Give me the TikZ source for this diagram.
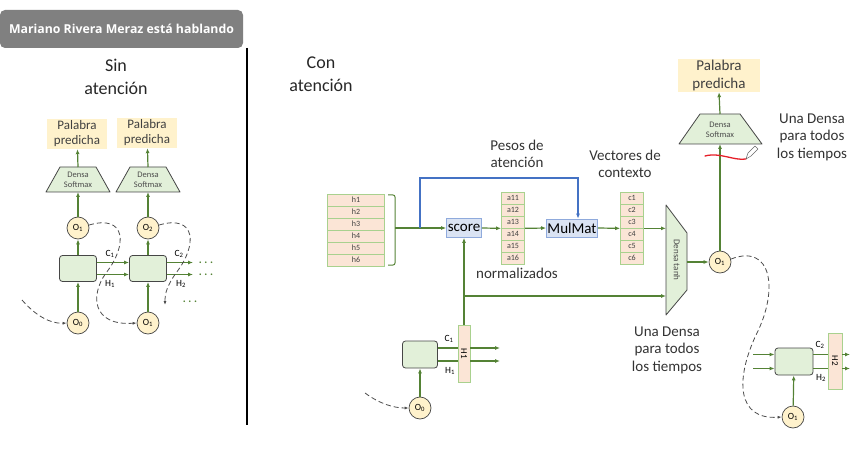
\documentclass[tikz,border=0pt]{standalone}
\usepackage{fontspec}
\setmainfont{Carlito}
\newfontfamily\headfont{Open Sans}
\usepackage{tikz}
\usetikzlibrary{arrows.meta}
\definecolor{headGray}{RGB}{128, 128, 128}
\definecolor{lineGreen}{RGB}{84, 130, 53}
\definecolor{edgeGreen}{RGB}{169, 209, 142}
\definecolor{paleGreen}{RGB}{226, 240, 217}
\definecolor{paleYellow}{RGB}{255, 242, 204}
\definecolor{palePink}{RGB}{251, 229, 214}
\definecolor{paleBlue}{RGB}{218, 227, 243}
\definecolor{edgeBlue}{RGB}{143, 170, 220}
\definecolor{lineBlue}{RGB}{68, 114, 196}
\definecolor{cellGray}{RGB}{70, 70, 70}
\definecolor{penRed}{RGB}{230, 30, 40}

\begin{document}
\begin{tikzpicture}[x=1pt,y=-1pt,
        title/.style={font=\fontsize{18}{23}\selectfont,align=center,text=black!85},
        note/.style={font=\fontsize{15}{17.5}\selectfont,align=center,text=black!80},
        palabra/.style={fill=paleYellow,minimum width=60pt,minimum height=30pt,inner sep=1pt,
                        font=\fontsize{13}{15}\selectfont,align=center,text=black!75},
        densa/.style={draw=cellGray,fill=paleGreen,line width=0.8pt,line join=round},
        densatxt/.style={font=\fontsize{8.5}{10}\selectfont,align=center,text=black!70,inner sep=0pt},
        cell/.style={draw=cellGray,fill=paleGreen,rounded corners=3pt,line width=0.8pt,
                     minimum width=37pt,minimum height=26pt},
        salida/.style={circle,draw=cellGray,fill=paleYellow,line width=0.7pt,minimum size=22pt,
                       inner sep=0pt,font=\fontsize{9.5}{10}\selectfont},
        fila/.style={draw=edgeGreen,fill=palePink,line width=0.7pt,minimum height=12pt,
                     inner sep=0pt,font=\fontsize{8}{8}\selectfont,text=black!75},
        barra/.style={draw=edgeGreen,fill=palePink,line width=0.7pt,inner sep=0pt,
                      font=\fontsize{9}{9}\selectfont},
        opbox/.style={draw=edgeBlue,fill=paleBlue,line width=0.7pt,inner sep=1pt,
                      font=\fontsize{15}{16}\selectfont},
        flecha/.style={draw=lineGreen,line width=1.2pt,-{Latex[length=5pt,width=4pt]}},
        linea/.style={draw=lineGreen,line width=1.2pt},
        bucle/.style={draw=black!70,line width=0.8pt,dash pattern=on 5pt off 3pt,
                      -{Latex[length=4pt,width=3pt]}},
        etiq/.style={font=\fontsize{9.5}{10}\selectfont,inner sep=0pt},
        puntos/.style={text=lineGreen,inner sep=0pt,font=\fontsize{11}{11}\selectfont\boldmath}
    ]
    \useasboundingbox (0,0) rectangle (859,465);

    % cabecera
    \node[fill=headGray,rounded corners=5pt,minimum width=243pt,minimum height=38pt,
          text=white,font=\headfont\bfseries\fontsize{12.3}{14}\selectfont] (cabecera) at (121.5,29) {Mariano Rivera Meraz está hablando};
    \draw[line width=2pt] (247,48) -- (247,425);

    % sin atencion
    \node[title] (sin) at (116,77) {Sin\\atención};
    \node[palabra] (pal1) at (77,134) {Palabra\\predicha};
    \node[palabra] (pal2) at (147,133) {Palabra\\predicha};
    \draw[densa] (46,192) -- (60,167) -- (96,167) -- (110,192) -- cycle;
    \draw[densa] (116,192) -- (130,167) -- (166,167) -- (180,192) -- cycle;
    \node[densatxt] (soft1) at (78,180) {Densa\\Softmax};
    \node[densatxt] (soft2) at (148,180) {Densa\\Softmax};
    \coordinate (soft1b) at (78,192);
    \coordinate (soft1t) at (78,167);
    \coordinate (soft2b) at (148,192);
    \coordinate (soft2t) at (148,167);
    \node[salida] (o1) at (78,228) {O\textsubscript{1}};
    \node[salida] (o2) at (148,228) {O\textsubscript{2}};
    \node[cell] (cell1) at (78,268.5) {};
    \node[cell] (cell2) at (148,268.5) {};
    \node[salida] (o0) at (78,323) {O\textsubscript{0}};
    \node[salida] (o1b) at (148,323) {O\textsubscript{1}};

    \draw[flecha] (soft1t) -- (pal1);
    \draw[flecha] (soft2t) -- (pal2);
    \draw[flecha] (o1) -- (soft1b);
    \draw[flecha] (o2) -- (soft2b);
    \draw[flecha] (cell1) -- (o1);
    \draw[flecha] (cell2) -- (o2);
    \draw[flecha] (o0) -- (cell1);
    \draw[flecha] (o1b) -- (cell2);

    \coordinate (c1in) at (97,262.5);
    \coordinate (h1in) at (97,274.5);
    \coordinate (c2out) at (193,262.5);
    \coordinate (h2out) at (193,274.5);
    \draw[flecha] (c1in) -- (c1in -| cell2.west);
    \draw[flecha] (h1in) -- (h1in -| cell2.west);
    \draw[flecha] (c2out -| cell2.east) -- (c2out);
    \draw[flecha] (h2out -| cell2.east) -- (h2out);
    \node[puntos] (dots1) at (206,262.5) {$\cdots$};
    \node[puntos] (dots2) at (206,274.5) {$\cdots$};
    \node[puntos] (dots3) at (190,302) {$\cdots$};
    \node[etiq] (lc1) at (110,254) {C\textsubscript{1}};
    \node[etiq] (lh1) at (110,284) {H\textsubscript{1}};
    \node[etiq] (lc2) at (179,254) {C\textsubscript{2}};
    \node[etiq] (lh2) at (181,284) {H\textsubscript{2}};

    \draw[bucle] (o1.15) .. controls (126,214) and (128,245) .. (106,273)
                 .. controls (90,295) and (92,326) .. (o1b.west);
    \draw[bucle] (o2.15) .. controls (196,214) and (198,245) .. (176,273)
                 .. controls (167,286) and (165,293) .. (165,305);
    \draw[bucle] (22,300) .. controls (35,315) and (50,324) .. (o0.west);

    % con atencion
    \node[title] (con) at (321,74) {Con\\atención};

    \node[fila,minimum width=57pt] (h1) at (356,200) {h1};
    \node[fila,minimum width=57pt] (h2) at (356,212) {h2};
    \node[fila,minimum width=57pt] (h3) at (356,224) {h3};
    \node[fila,minimum width=57pt] (h4) at (356,236) {h4};
    \node[fila,minimum width=57pt] (h5) at (356,248) {h5};
    \node[fila,minimum width=57pt] (h6) at (356,260) {h6};
    \draw[linea,line width=1pt,rounded corners=2pt] (388,195) -- (395,195) -- (395,265) -- (388,265);
    \coordinate (hjoin) at (395,228);
    \coordinate (bluefork) at (420,228);
    \coordinate (bluecorner) at (578,178);

    \node[opbox,minimum width=35pt,minimum height=19pt] (score) at (464,228) {score};
    \node[fila,minimum width=23pt] (a11) at (513,198) {a11};
    \node[fila,minimum width=23pt] (a12) at (513,210) {a12};
    \node[fila,minimum width=23pt] (a13) at (513,222) {a13};
    \node[fila,minimum width=23pt] (a14) at (513,234) {a14};
    \node[fila,minimum width=23pt] (a15) at (513,246) {a15};
    \node[fila,minimum width=23pt] (a16) at (513,258) {a16};
    \node[opbox,minimum width=50pt,minimum height=18pt] (mulmat) at (572,228) {MulMat};
    \node[fila,minimum width=23pt] (c1) at (632,198) {c1};
    \node[fila,minimum width=23pt] (c2) at (632,210) {c2};
    \node[fila,minimum width=23pt] (c3) at (632,222) {c3};
    \node[fila,minimum width=23pt] (c4) at (632,234) {c4};
    \node[fila,minimum width=23pt] (c5) at (632,246) {c5};
    \node[fila,minimum width=23pt] (c6) at (632,258) {c6};

    \node[note] (pesos) at (517,154) {Pesos de\\atención};
    \node[note] (normal) at (517,273) {normalizados};
    \node[note] (vectores) at (625,164) {Vectores de\\contexto};

    \draw[densa] (666,205) -- (687,233) -- (687,290) -- (666,315) -- cycle;
    \node[densatxt,rotate=-90,font=\fontsize{9}{10}\selectfont] (tanh) at (677,260) {Densa tanh};
    \coordinate (tanhL) at (666,260);
    \coordinate (tanhR) at (687,262);

    \draw[flecha] (hjoin) -- (score.west);
    \draw[draw=lineBlue,line width=1.2pt,-{Latex[length=5pt,width=4pt]}]
        (bluefork) |- (bluecorner) -- (bluecorner |- mulmat.north);
    \draw[flecha] (score.east) -- (a13.south west);
    \draw[flecha] (a13.south east) -- (mulmat.west);
    \draw[flecha] (mulmat.east) -- (c3.south west);
    \draw[flecha] (c3.south east) -- (c3.south east -| tanhL);

    \node[salida] (o1r) at (720,262) {O\textsubscript{1}};
    \draw[flecha] (tanhR) -- (o1r.west);
    \draw[densa] (679,144) -- (700,114) -- (740,114) -- (762,144) -- cycle;
    \node[densatxt] (softR) at (720,130) {Densa\\Softmax};
    \coordinate (softRb) at (720,144);
    \coordinate (softRt) at (720,114);
    \node[palabra,minimum width=82pt,minimum height=33pt,font=\fontsize{15}{18}\selectfont] (palR) at (719,75.5) {Palabra\\predicha};
    \draw[flecha] (o1r.north) -- (softRb);
    \draw[flecha] (softRt) -- (palR.south);
    \node[note] (unaR) at (812,137) {Una Densa\\para todos\\los tiempos};

    % trazo a mano
    \draw[penRed,line width=1.3pt,line cap=round] (705,156) .. controls (720,152) and (734,161) .. (746,159);
    \draw[black!60,line width=0.5pt,line join=round] (746,159) -- (748,153) -- (755,146) -- (758,149) -- (751,156) -- cycle;

    % celda inferior izquierda
    \node[cell,minimum width=35pt,minimum height=27pt] (cell3) at (420,354.5) {};
    \node[salida] (o0r) at (420,408) {O\textsubscript{0}};
    \node[barra,minimum width=12pt,minimum height=57pt] (hbar1) at (464,353.5) {\rotatebox{-90}{H1}};
    \coordinate (c3out) at (500,348);
    \coordinate (h3out) at (500,361);
    \coordinate (branch) at (464,296);
    \draw[flecha] (o0r) -- (cell3);
    \draw[linea] (c3out -| cell3.east) -- (c3out -| hbar1.west);
    \draw[linea] (h3out -| cell3.east) -- (h3out -| hbar1.west);
    \draw[flecha] (c3out -| hbar1.east) -- (c3out);
    \draw[flecha] (h3out -| hbar1.east) -- (h3out);
    \draw[flecha] (hbar1.north) -- (score.south);
    \draw[flecha] (branch) -- (branch -| tanhL);
    \node[etiq] (lc3) at (449,339) {C\textsubscript{1}};
    \node[etiq] (lh3) at (450,371) {H\textsubscript{1}};
    \draw[bucle] (365,393) .. controls (380,404) and (394,408) .. (o0r.west);
    \node[note] (unaL) at (667,350) {Una Densa\\para todos\\los tiempos};

    % celda inferior derecha
    \node[cell,minimum width=38pt,minimum height=27pt] (cell4) at (794,361.5) {};
    \node[salida] (o1c) at (793,417) {O\textsubscript{1}};
    \node[barra,minimum width=14pt,minimum height=56pt] (hbar2) at (835,361) {\rotatebox{-90}{H2}};
    \coordinate (c4in) at (753,354.5);
    \coordinate (h4in) at (753,368.5);
    \coordinate (c4out) at (850,354.5);
    \coordinate (h4out) at (850,368.5);
    \draw[flecha] (c4in) -- (c4in -| cell4.west);
    \draw[flecha] (h4in) -- (h4in -| cell4.west);
    \draw[linea] (c4in -| cell4.east) -- (c4in -| hbar2.west);
    \draw[linea] (h4in -| cell4.east) -- (h4in -| hbar2.west);
    \draw[flecha] (c4out -| hbar2.east) -- (c4out);
    \draw[flecha] (h4out -| hbar2.east) -- (h4out);
    \draw[flecha] (o1c) -- (cell4);
    \node[etiq] (lc4) at (820,345) {C\textsubscript{2}};
    \node[etiq] (lh4) at (821,378) {H\textsubscript{2}};
    \draw[bucle] (o1r.15) .. controls (772,243) and (779,290) .. (756,335)
                 .. controls (735,380) and (737,420) .. (o1c.west);
\end{tikzpicture}
\end{document}
